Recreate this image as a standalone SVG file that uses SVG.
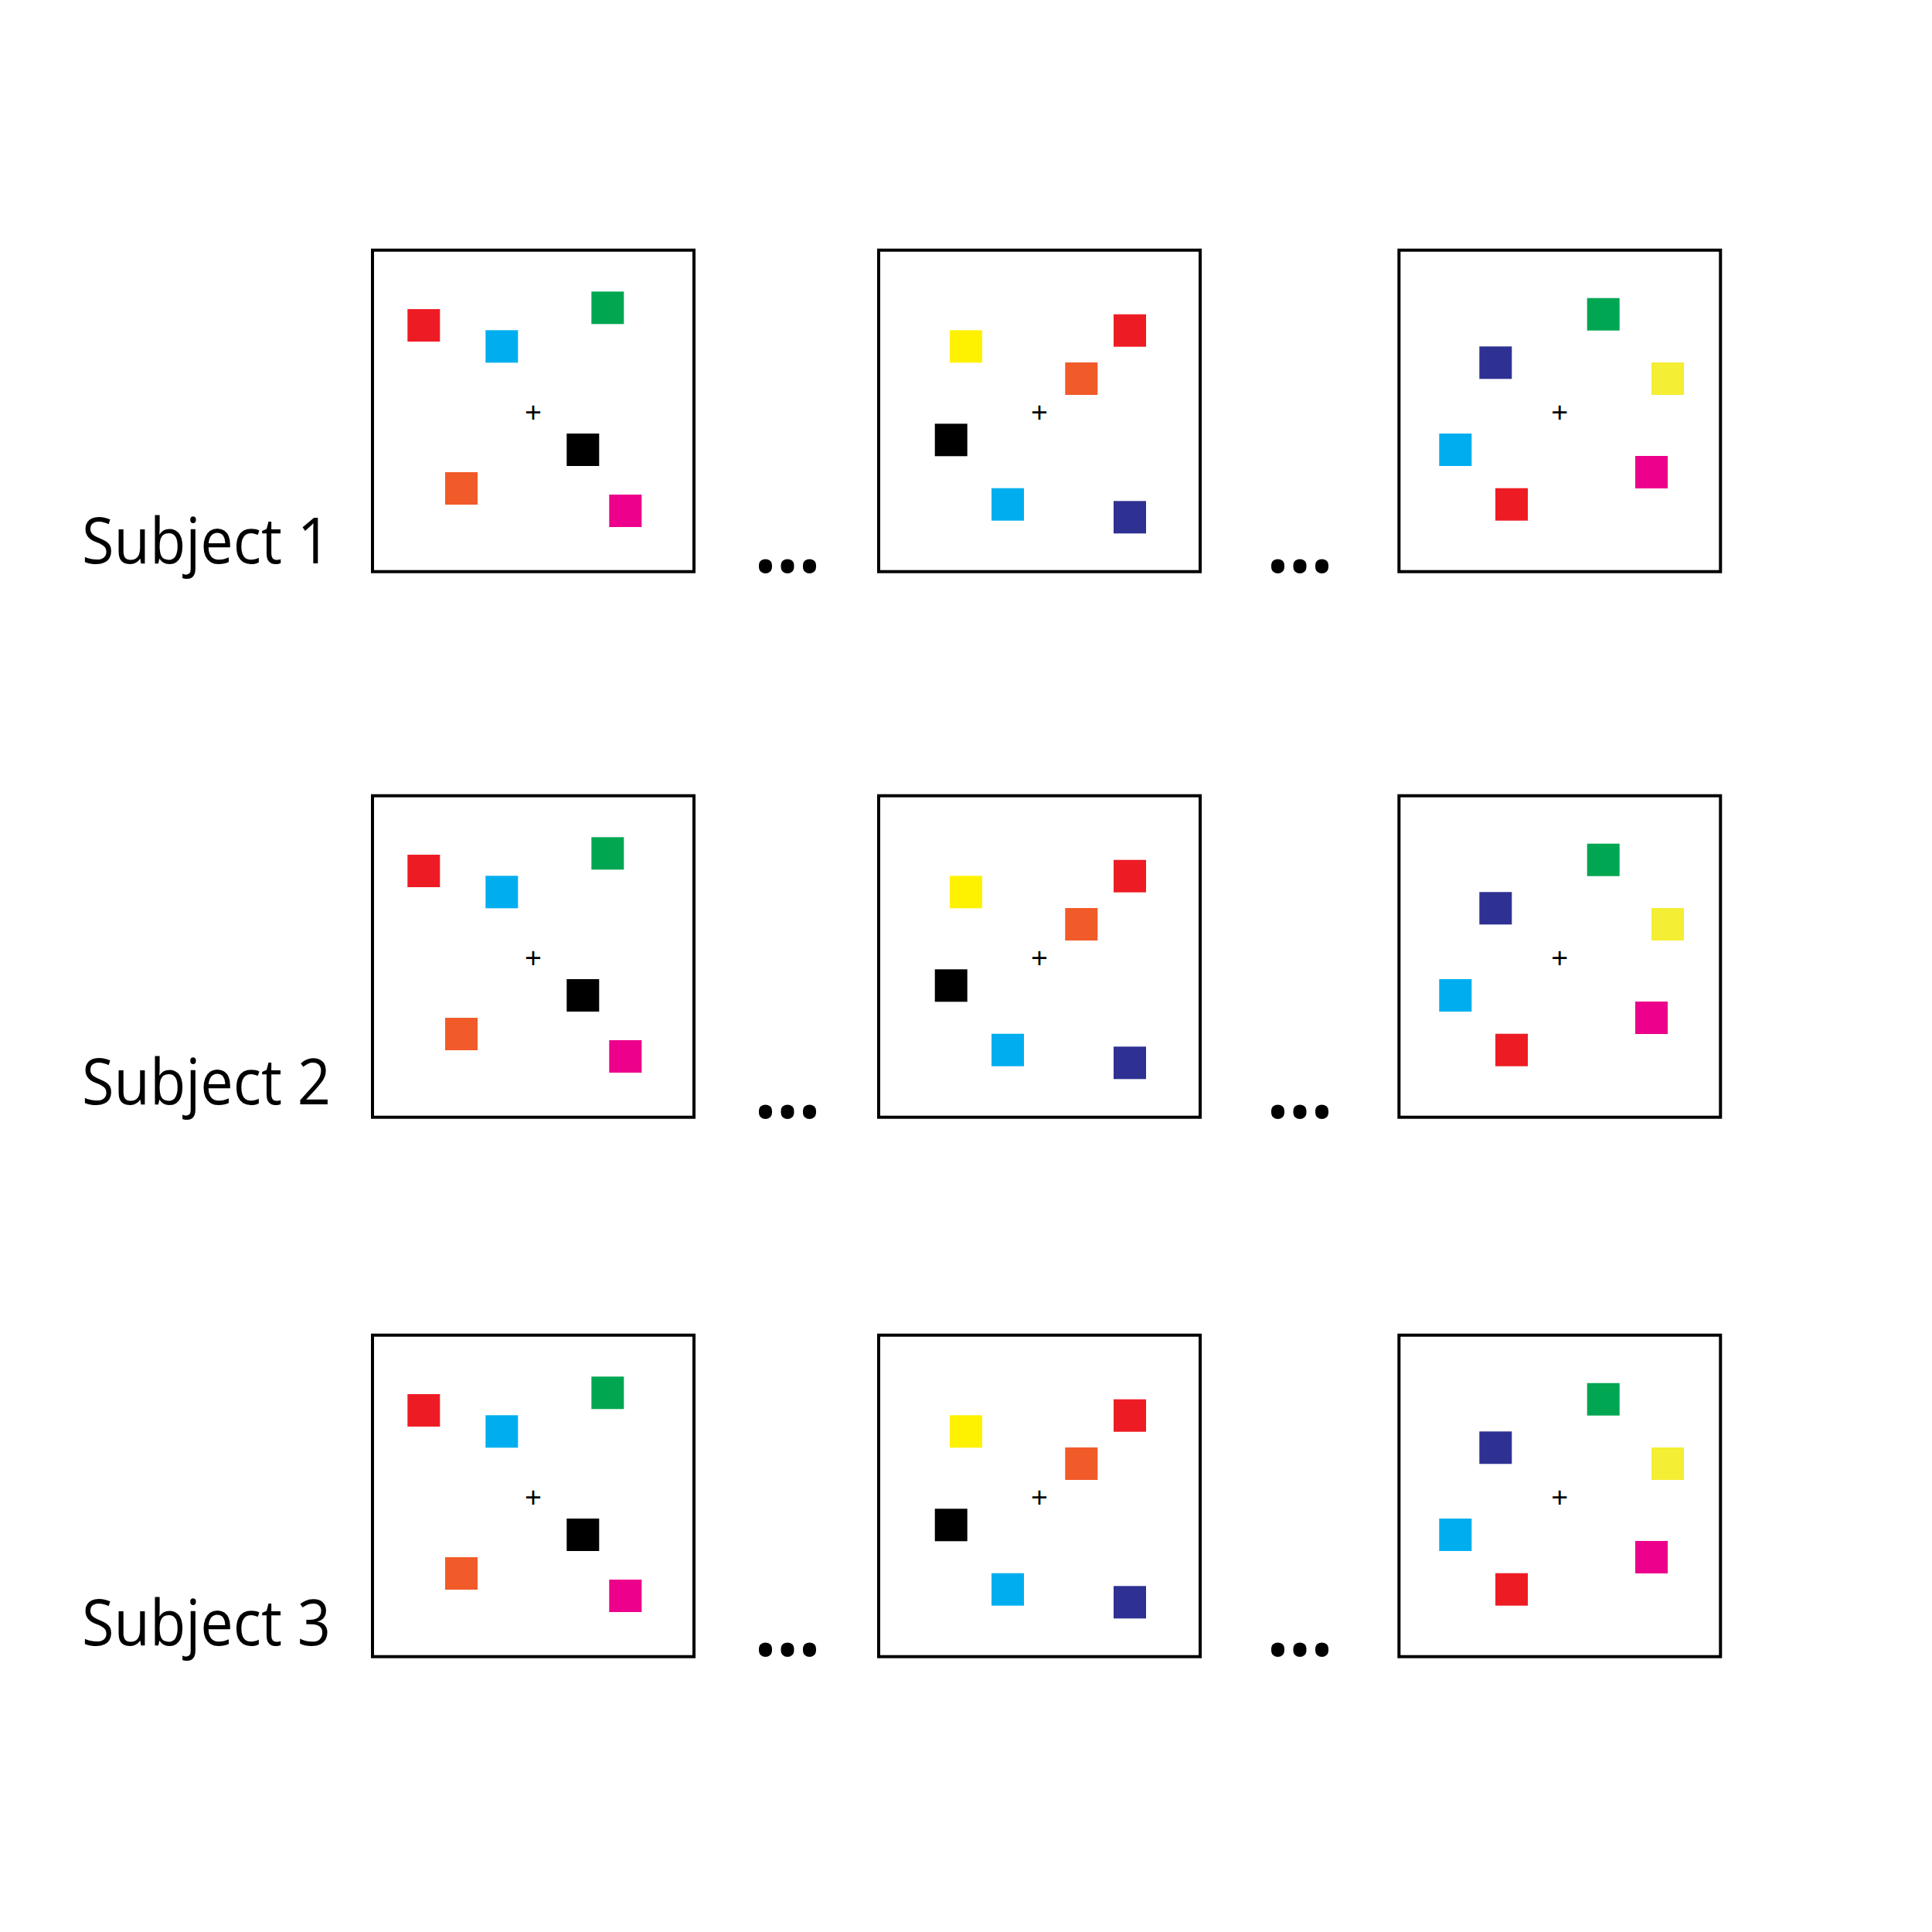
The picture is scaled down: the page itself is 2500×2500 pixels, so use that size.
<svg xmlns="http://www.w3.org/2000/svg" xmlns:xlink="http://www.w3.org/1999/xlink" width="2500" height="2500" viewBox="0 0 2500 2500">
<style>
.frame{fill:#fff;stroke:#000;stroke-width:4}
.fix{font-family:"Liberation Sans",Arial,sans-serif;font-size:37.5px;fill:#000;text-anchor:middle}
.lbl{font-family:"Open Sans","Noto Sans",sans-serif;font-size:83px;fill:#000}
.dots{font-family:"Open Sans","Noto Sans",sans-serif;font-weight:bold;font-size:100px;fill:#000;text-anchor:middle}
.red{fill:#ED1C24}.cyan{fill:#00AEEF}.green{fill:#00A651}.orange{fill:#F15A29}.mag{fill:#EC008C}.blk{fill:#000}.yel{fill:#FFF200}.navy{fill:#2E3192}.yel2{fill:#F4EE34}
</style>
<rect width="2500" height="2500" fill="#fff"/>
<defs>
<g id="panelA">
<rect class="frame" x="482" y="323.7" width="416" height="416"/>
<rect class="red" x="527.3" y="400" width="42" height="42"/>
<rect class="cyan" x="628.3" y="427.3" width="42" height="42"/>
<rect class="green" x="765.3" y="377.3" width="42" height="42"/>
<rect class="blk" x="733.3" y="561" width="42" height="42"/>
<rect class="orange" x="576" y="611" width="42" height="42"/>
<rect class="mag" x="788.3" y="640" width="42" height="42"/>
<text class="fix" x="690" y="545.7">+</text>
</g>
<g id="panelB">
<rect class="frame" x="1137" y="323.7" width="416" height="416"/>
<rect class="yel" x="1229" y="427.3" width="42" height="42"/>
<rect class="red" x="1441" y="406.7" width="42" height="42"/>
<rect class="orange" x="1378.3" y="469" width="42" height="42"/>
<rect class="blk" x="1209.7" y="548.3" width="42" height="42"/>
<rect class="cyan" x="1283" y="631.7" width="42" height="42"/>
<rect class="navy" x="1441" y="648.3" width="42" height="42"/>
<text class="fix" x="1345" y="545.7">+</text>
</g>
<g id="panelC">
<rect class="frame" x="1810.3" y="323.7" width="416" height="416"/>
<rect class="green" x="2053.7" y="385.7" width="42" height="42"/>
<rect class="navy" x="1914.3" y="448.3" width="42" height="42"/>
<rect class="yel2" x="2137" y="469" width="42" height="42"/>
<rect class="cyan" x="1862.3" y="561" width="42" height="42"/>
<rect class="mag" x="2116" y="590" width="42" height="42"/>
<rect class="red" x="1935" y="631.7" width="42" height="42"/>
<text class="fix" x="2018.3" y="545.7">+</text>
</g>
</defs>
<g id="row1">
<text id="label1" class="lbl" x="106" y="729.3" textLength="322" lengthAdjust="spacingAndGlyphs">Subject 1</text>
<use id="s1-trial-first" xlink:href="#panelA"/>
<use id="s1-trial-mid" xlink:href="#panelB"/>
<use id="s1-trial-last" xlink:href="#panelC"/>
<text class="dots" transform="translate(1019,741) scale(1,1.12)">...</text>
<text class="dots" transform="translate(1682,741) scale(1,1.12)">...</text>
</g>
<g id="row2" transform="translate(0,706)">
<text id="label2" class="lbl" x="106" y="723.3" textLength="322" lengthAdjust="spacingAndGlyphs">Subject 2</text>
<use id="s2-trial-first" xlink:href="#panelA"/>
<use id="s2-trial-mid" xlink:href="#panelB"/>
<use id="s2-trial-last" xlink:href="#panelC"/>
<text class="dots" transform="translate(1019,741) scale(1,1.12)">...</text>
<text class="dots" transform="translate(1682,741) scale(1,1.12)">...</text>
</g>
<g id="row3" transform="translate(0,1404)">
<text id="label3" class="lbl" x="106" y="725.3" textLength="322" lengthAdjust="spacingAndGlyphs">Subject 3</text>
<use id="s3-trial-first" xlink:href="#panelA"/>
<use id="s3-trial-mid" xlink:href="#panelB"/>
<use id="s3-trial-last" xlink:href="#panelC"/>
<text class="dots" transform="translate(1019,739.3) scale(1,1.12)">...</text>
<text class="dots" transform="translate(1682,739.3) scale(1,1.12)">...</text>
</g>
<g id="connectors"/>
</svg>
